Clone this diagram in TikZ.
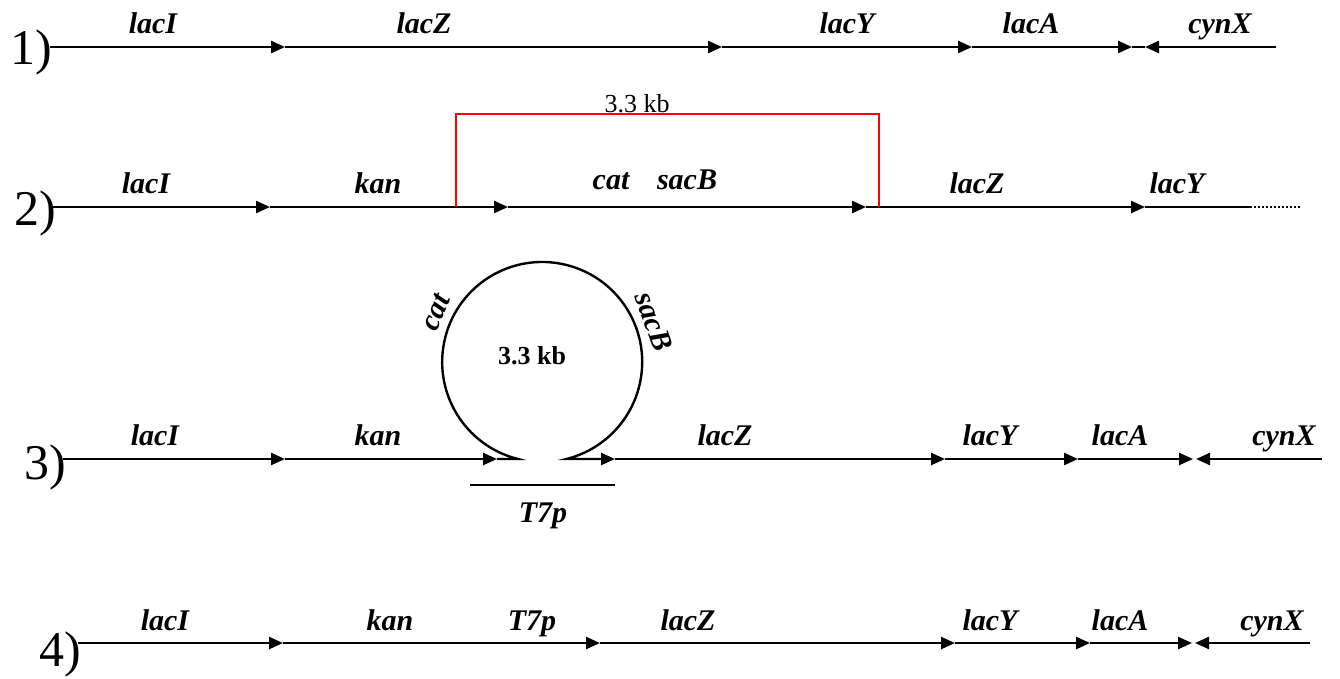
\documentclass[tikz,border=0pt]{standalone}
\usepackage{fontspec}
\setmainfont{Liberation Serif}
\usetikzlibrary{arrows.meta,calc}
\begin{document}
\begin{tikzpicture}[x=1pt,y=1pt,
  gene/.style={line width=2.4pt,-{Triangle[length=14pt,width=12pt]}},
  dna/.style={line width=2.4pt},
  glab/.style={font=\fontsize{30}{32}\selectfont\bfseries\itshape, anchor=base, inner sep=0pt},
  rowlab/.style={font=\fontsize{50}{52}\selectfont, anchor=base east, inner sep=0pt},
  bracket/.style={line width=2pt, red},
  dots/.style={line width=2pt, dash pattern=on 2pt off 2pt}
]
\useasboundingbox (0,0) rectangle (1340,-678);

% ---------- Row 1 ----------
\node[rowlab] (r1) at (52,-64) {1)};
\coordinate (a0) at (50,-47);
\coordinate (a1) at (285,-47);
\coordinate (a2) at (722,-47);
\coordinate (a3) at (972,-47);
\coordinate (a4) at (1132,-47);
\coordinate (a5) at (1145,-47);
\coordinate (a6) at (1276,-47);
\draw[gene] (a0) -- (a1);
\draw[gene] (a1) -- (a2);
\draw[gene] (a2) -- (a3);
\draw[gene] (a3) -- (a4);
\draw[dna] (a4) -- (a5);
\draw[gene] (a6) -- (a5);
\node[glab] (t1a) at (153,-33) {lacI};
\node[glab] (t1b) at (424,-33) {lacZ};
\node[glab] (t1c) at (847,-33) {lacY};
\node[glab] (t1d) at (1031,-33) {lacA};
\node[glab] (t1e) at (1220,-33) {cynX};

% ---------- Row 2 ----------
\node[rowlab] (r2) at (56,-225) {2)};
\coordinate (b0) at (52,-207);
\coordinate (b1) at (270,-207);
\coordinate (b2) at (508,-207);
\coordinate (b3) at (866,-207);
\coordinate (b4) at (1145,-207);
\coordinate (b5) at (1250,-207);
\coordinate (b6) at (1300,-207);
\draw[gene] (b0) -- (b1);
\draw[gene] (b1) -- (b2);
\draw[gene] (b2) -- (b3);
\draw[gene] (b3) -- (b4);
\draw[dna] (b4) -- (b5);
\draw[dots] (b5) -- (b6);
\coordinate (rL) at (456,-207);
\coordinate (rR) at (879,-207);
\draw[bracket] (rL) -- (456,-114) -- (879,-114) -- (rR);
\node[font=\fontsize{26}{28}\selectfont, anchor=base, inner sep=0pt] (kb2) at (637,-112) {3.3 kb};
\node[glab] (t2a) at (146,-193) {lacI};
\node[glab] (t2b) at (378,-193) {kan};
\node[glab] (t2c) at (611,-189) {cat};
\node[glab] (t2d) at (687,-189) {sacB};
\node[glab] (t2e) at (977,-193) {lacZ};
\node[glab] (t2f) at (1177,-193) {lacY};

% ---------- Row 3 ----------
\node[rowlab] (r3) at (66,-479) {3)};
\coordinate (c0) at (63,-459);
\coordinate (c1) at (285,-459);
\coordinate (c2) at (497,-459);
\coordinate (c3) at (615,-459);
\coordinate (c4) at (945,-459);
\coordinate (c5) at (1078,-459);
\coordinate (c6) at (1193,-459);
\coordinate (c7) at (1196,-459);
\coordinate (c8) at (1322,-459);
\draw[gene] (c0) -- (c1);
\draw[gene] (c1) -- (c2);
\draw[gene] (c2) -- (518,-459) arc[start angle=256, end angle=-76, radius=100] -- (c3);
\draw[gene] (c3) -- (c4);
\draw[gene] (c4) -- (c5);
\draw[gene] (c5) -- (c6);
\draw[gene] (c8) -- (c7);
\coordinate (lc) at (542.2,-362);
\node[font=\fontsize{26}{28}\selectfont\bfseries, inner sep=0pt] (kb3) at (532,-356) {3.3 kb};
\node[glab, anchor=center, rotate=66] (t3cat) at ($(lc)+(155:117)$) {cat};
\node[glab, anchor=center, rotate=-70] (t3sac) at ($(lc)+(20:119)$) {sacB};
\coordinate (p0) at (470,-485);
\coordinate (p1) at (615,-485);
\draw[line width=2pt] (p0) -- (p1);
\node[glab] (t3p) at (543,-522) {T7p};
\node[glab] (t3a) at (155,-445) {lacI};
\node[glab] (t3b) at (378,-445) {kan};
\node[glab] (t3c) at (725,-445) {lacZ};
\node[glab] (t3d) at (990,-445) {lacY};
\node[glab] (t3e) at (1120,-445) {lacA};
\node[glab] (t3f) at (1284,-445) {cynX};

% ---------- Row 4 ----------
\node[rowlab] (r4) at (81,-666) {4)};
\coordinate (d0) at (78,-643);
\coordinate (d1) at (283,-643);
\coordinate (d2) at (600,-643);
\coordinate (d3) at (955,-643);
\coordinate (d4) at (1090,-643);
\coordinate (d5) at (1192,-643);
\coordinate (d6) at (1195,-643);
\coordinate (d7) at (1310,-643);
\draw[gene] (d0) -- (d1);
\draw[gene] (d1) -- (d2);
\draw[gene] (d2) -- (d3);
\draw[gene] (d3) -- (d4);
\draw[gene] (d4) -- (d5);
\draw[gene] (d7) -- (d6);
\node[glab] (t4a) at (165,-630) {lacI};
\node[glab] (t4b) at (390,-630) {kan};
\node[glab] (t4c) at (532,-630) {T7p};
\node[glab] (t4d) at (688,-630) {lacZ};
\node[glab] (t4e) at (990,-630) {lacY};
\node[glab] (t4f) at (1120,-630) {lacA};
\node[glab] (t4g) at (1272,-630) {cynX};
\end{tikzpicture}
\end{document}
